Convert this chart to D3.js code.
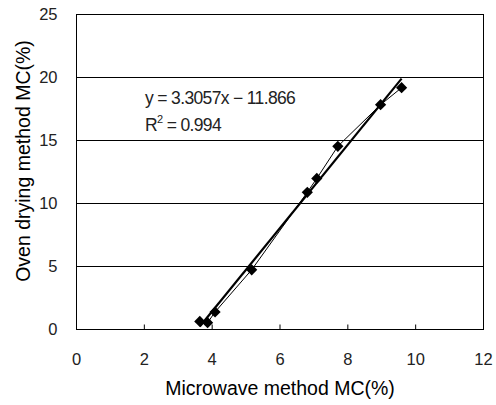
<!DOCTYPE html>
<html>
<head>
<meta charset="utf-8">
<script src="https://cdn.jsdelivr.net/npm/d3@7"></script>
<style>
  html, body { margin: 0; padding: 0; background: #fff; }
  svg { display: block; }
  text { font-family: "Liberation Sans", Arial, sans-serif; fill: #222; }
</style>
</head>
<body>
<svg id="chart" width="496" height="405"></svg>
<script>
// Moisture content: microwave method (x) vs oven drying method (y)
const microwaveMC = [3.65, 3.88, 4.1, 5.18, 6.82, 7.1, 7.72, 8.98, 9.6];
const ovenMC      = [0.6, 0.5, 1.35, 4.7, 10.85, 11.95, 14.5, 17.8, 19.15];
const xTicks = [0, 2, 4, 6, 8, 10, 12];
const yTicks = [0, 5, 10, 15, 20, 25];
const slope = 3.3057, intercept = -11.866, r2 = 0.994;

const svg = d3.select("#chart");
const m = { left: 76, right: 13, top: 14, bottom: 76 };
const W = 496, H = 405;

const x = d3.scaleLinear().domain([0, 12]).range([m.left, W - m.right]);
const y = d3.scaleLinear().domain([0, 25]).range([H - m.bottom, m.top]);

// horizontal gridlines
svg.append("g")
  .selectAll("line")
  .data(yTicks.filter(t => t > 0 && t < 25))
  .join("line")
  .attr("x1", x(0)).attr("x2", x(12))
  .attr("y1", d => Math.round(y(d)) + 0.5).attr("y2", d => Math.round(y(d)) + 0.5)
  .attr("stroke", "#000").attr("stroke-width", 1);

// plot frame
svg.append("rect")
  .attr("x", Math.round(x(0)) + 0.5).attr("y", Math.round(y(25)) + 0.5)
  .attr("width", Math.round(x(12)) - Math.round(x(0)))
  .attr("height", Math.round(y(0)) - Math.round(y(25)))
  .attr("fill", "none").attr("stroke", "#000").attr("stroke-width", 1);

// x axis: inward ticks, labels below
const xAxis = svg.append("g")
  .attr("transform", `translate(0,${Math.round(y(0)) + 0.5})`)
  .call(d3.axisBottom(x).tickValues(xTicks).tickSizeInner(-5).tickSizeOuter(0).tickPadding(24));
xAxis.select(".domain").remove();
xAxis.selectAll("line").attr("stroke", "#000");
xAxis.selectAll("text").attr("font-size", 16.5).attr("fill", "#333")
  .attr("font-family", "'Liberation Sans', Arial, sans-serif");

// y axis: labels only (gridlines mark the ticks)
const yAxis = svg.append("g")
  .attr("transform", `translate(${Math.round(x(0)) + 0.5},0)`)
  .call(d3.axisLeft(y).tickValues(yTicks).tickSize(0).tickPadding(19));
yAxis.select(".domain").remove();
yAxis.selectAll("text").attr("font-size", 16.5).attr("fill", "#333")
  .attr("font-family", "'Liberation Sans', Arial, sans-serif");

// axis titles
svg.append("text")
  .attr("x", 280).attr("y", 395)
  .attr("text-anchor", "middle").attr("font-size", 19.5)
  .style("fill", "#000")
  .text("Microwave method MC(%)");

svg.append("text")
  .attr("transform", `translate(30,161) rotate(-90)`)
  .attr("text-anchor", "middle").attr("font-size", 19.5)
  .style("fill", "#000")
  .text("Oven drying method MC(%)");

// linear trendline over the data range
const xr = d3.extent(microwaveMC);
svg.append("line")
  .attr("x1", x(xr[0])).attr("y1", y(slope * xr[0] + intercept))
  .attr("x2", x(xr[1])).attr("y2", y(slope * xr[1] + intercept))
  .attr("stroke", "#000").attr("stroke-width", 2.2);

// data series joined by a thin line
const pts = microwaveMC.map((v, i) => [v, ovenMC[i]]);
svg.append("path")
  .attr("d", d3.line().x(d => x(d[0])).y(d => y(d[1]))(pts))
  .attr("fill", "none").attr("stroke", "#000").attr("stroke-width", 1);

svg.append("g")
  .selectAll("path")
  .data(pts)
  .join("path")
  .attr("transform", d => `translate(${x(d[0])},${y(d[1])})`)
  .attr("d", d3.symbol(d3.symbolDiamond2, 80))
  .attr("fill", "#000");

// equation and R² annotation
const eq = svg.append("g").attr("font-size", 17.5).style("letter-spacing", "-0.65px");
eq.append("text").attr("x", 145).attr("y", 104)
  .text(`y = ${slope}x \u2212 ${Math.abs(intercept)}`);
const rt = eq.append("text").attr("x", 145).attr("y", 131);
rt.append("tspan").text("R");
rt.append("tspan").attr("font-size", 11).attr("dy", -8).text("2");
rt.append("tspan").attr("dy", 8).text(` = ${r2}`);
</script>
</body>
</html>
